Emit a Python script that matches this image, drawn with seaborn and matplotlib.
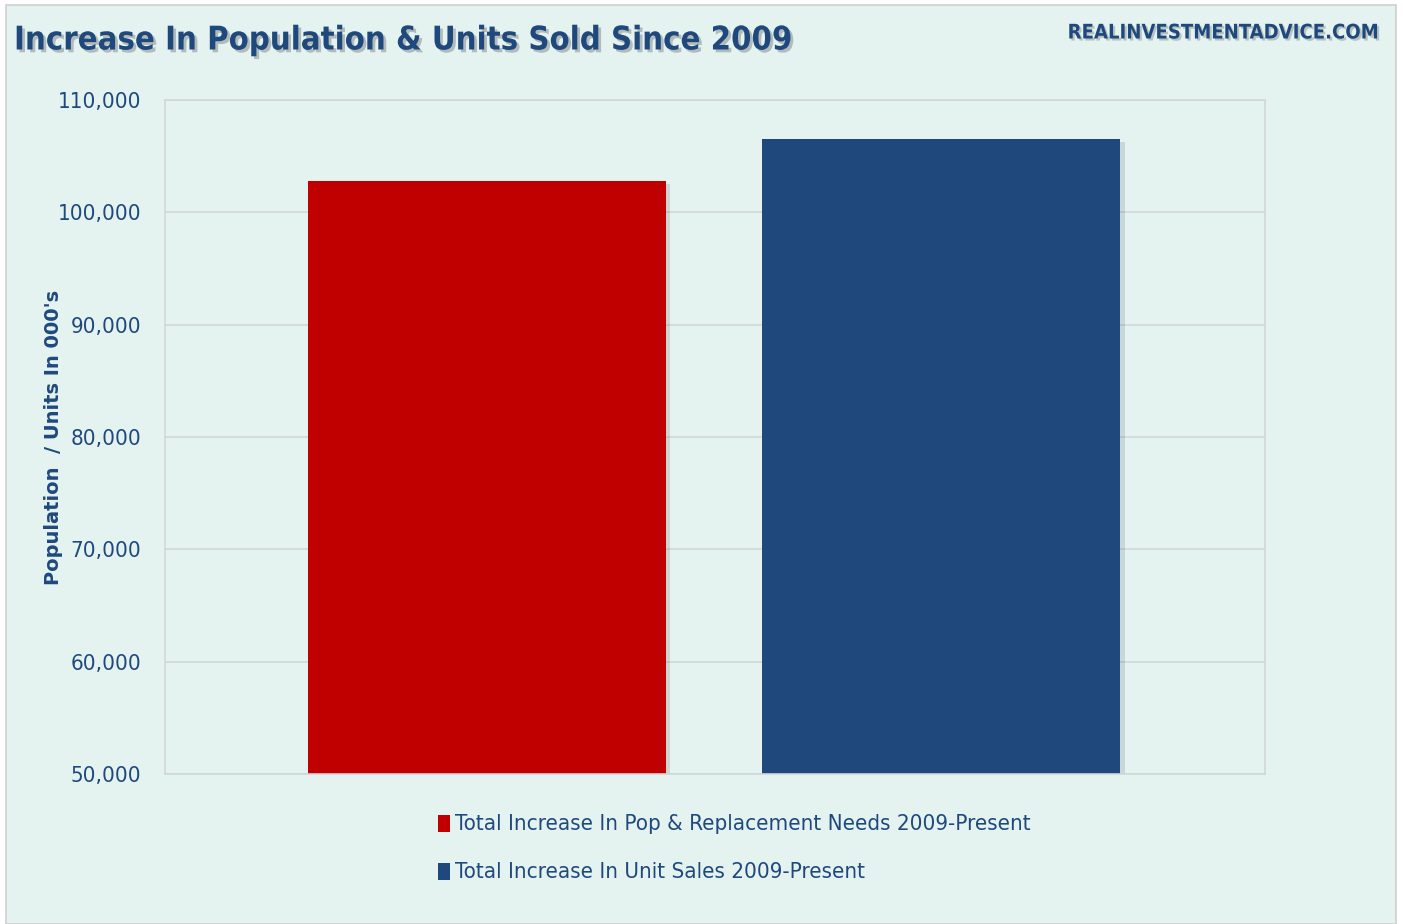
import matplotlib
matplotlib.use("Agg")
import matplotlib.pyplot as plt
import matplotlib.patheffects as pe
from matplotlib.patches import Rectangle
from matplotlib.ticker import FuncFormatter
import seaborn as sns
import pandas as pd

categories = ["Total Increase In Pop & Replacement Needs 2009-Present",
              "Total Increase In Unit Sales 2009-Present"]
values = [102800, 106500]
colors = ["#C00000", "#1F497D"]
yticks = [50000, 60000, 70000, 80000, 90000, 100000, 110000]

sns.set_theme(style="white")
plt.rcParams["font.family"] = ["DejaVu Sans"]
plt.rcParams["font.stretch"] = "condensed"
TXT = "#1F497D"
BG = "#E4F3F0"

fig = plt.figure(figsize=(14.03, 9.24), dpi=100)
fig.patch.set_facecolor("white")
fig.patches.append(Rectangle((6 / 1403, 0), (1396 - 6) / 1403, (924 - 5) / 924,
                             transform=fig.transFigure, facecolor=BG,
                             edgecolor="#D0D0D0", linewidth=1.2, zorder=-10))

W, H = 1403, 924
ax = fig.add_axes([165 / W, 1 - 774 / H, (1265 - 165) / W, (774 - 100) / H])
ax.set_facecolor(BG)

df = pd.DataFrame({"cat": categories, "val": values})
sns.barplot(data=df, x="cat", y="val", hue="cat", palette=colors, dodge=False,
            width=0.788, legend=False, ax=ax, saturation=1, linewidth=0)
for p in ax.patches:
    p.set_linewidth(0)
    p.set_path_effects([pe.SimplePatchShadow(offset=(3, -2), alpha=0.12), pe.Normal()])

ax.set_ylim(50000, 110000)
ax.set_xlim(-0.708, 1.712)
ax.set_yticks(yticks)
ax.yaxis.set_major_formatter(FuncFormatter(lambda v, _: f"{int(v):,}"))
ax.set_xticks([])
ax.set_xlabel("")
ax.set_ylabel("Population  / Units In 000's", fontsize=14, fontweight="bold",
              color=TXT, fontstretch="normal")
ax.yaxis.set_label_coords(-0.093, 0.5)
ax.grid(axis="y", color="#D3D6D6", linewidth=1.2)
ax.set_axisbelow(True)
for s in ax.spines.values():
    s.set_color("#D3D6D6")
    s.set_linewidth(1.2)
ax.tick_params(axis="y", length=0, labelsize=16, labelcolor=TXT, pad=17)

fig.text(14 / W, 1 - 40 / H, "Increase In Population & Units Sold Since 2009",
         fontsize=23.5, fontweight="bold", color=TXT, va="center", ha="left",
         path_effects=[pe.withSimplePatchShadow(offset=(2, -2), shadow_rgbFace="#555555", alpha=0.35)])
fig.text(1378 / W, 1 - 33 / H, "REALINVESTMENTADVICE.COM",
         fontsize=14.5, fontweight="bold", color=TXT, va="center", ha="right",
         path_effects=[pe.withSimplePatchShadow(offset=(1.5, -1.5), shadow_rgbFace="#555555", alpha=0.3)])

# legend
for i, (c, col) in enumerate(zip(categories, colors)):
    y = 824 + i * 48
    fig.patches.append(Rectangle((438 / W, 1 - (y + 8) / H), 12 / W, 17 / H,
                                 transform=fig.transFigure, facecolor=col,
                                 edgecolor="none"))
    fig.text(455 / W, 1 - y / H, c, fontsize=16, color=TXT, va="center", ha="left")

fig.savefig("out.png", dpi=100, facecolor=fig.get_facecolor())
